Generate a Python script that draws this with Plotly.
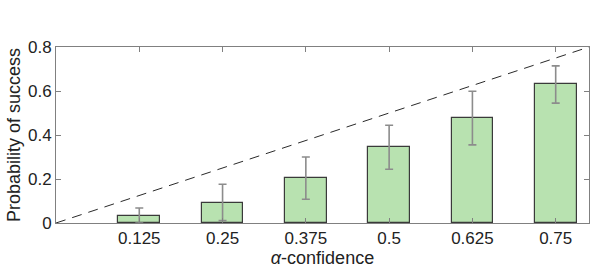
import plotly.graph_objects as go

alpha = [0.125, 0.25, 0.375, 0.5, 0.625, 0.75]
prob = [0.034, 0.093, 0.206, 0.344, 0.476, 0.630]
err_up = [0.034, 0.083, 0.094, 0.100, 0.123, 0.084]
err_down = [0.034, 0.082, 0.098, 0.100, 0.121, 0.085]
tick_labels = ["0.125", "0.25", "0.375", "0.5", "0.625", "0.75"]
diag = [0, 0.8]

FONT = "Liberation Sans, Arial, Helvetica"

fig = go.Figure()
fig.add_trace(go.Scatter(x=diag, y=diag, mode="lines",
                         line=dict(color="#2a2a2a", width=1, dash="10px,7px"),
                         showlegend=False, hoverinfo="skip"))
fig.add_trace(go.Bar(x=alpha, y=prob, width=0.0625,
                     marker=dict(color="#b8e2b0", line=dict(color="#3a3a3a", width=1.2)),
                     error_y=dict(type="data", symmetric=False, array=err_up, arrayminus=err_down,
                                  color="#8c8c8c", thickness=1.6, width=4),
                     showlegend=False))

axis_common = dict(showline=True, linecolor="#808080", linewidth=1, mirror="ticks",
                   ticks="inside", ticklen=5, tickcolor="#808080", showgrid=False,
                   zeroline=False, automargin=False,
                   tickfont=dict(family=FONT, size=17, color="#222"))
fig.update_xaxes(range=[0, 0.8], tickvals=alpha, ticktext=tick_labels,
                 title=dict(text="<i>α</i>-confidence", font=dict(family=FONT, size=18, color="#222"), standoff=0),
                 **axis_common)
fig.update_yaxes(range=[0, 0.8], tickvals=[0, 0.2, 0.4, 0.6, 0.8], ticktext=["0", "0.2", "0.4", "0.6", "0.8"],
                 title=dict(text="Probability of success", font=dict(family=FONT, size=18, color="#222"), standoff=2),
                 **axis_common)
fig.update_layout(width=598, height=268, margin=dict(l=56, r=9, t=47, b=45),
                  plot_bgcolor="white", paper_bgcolor="white", bargap=0)
fig.write_html("out.html", config={"displayModeBar": False},
               post_script="document.body.style.margin='0';")
